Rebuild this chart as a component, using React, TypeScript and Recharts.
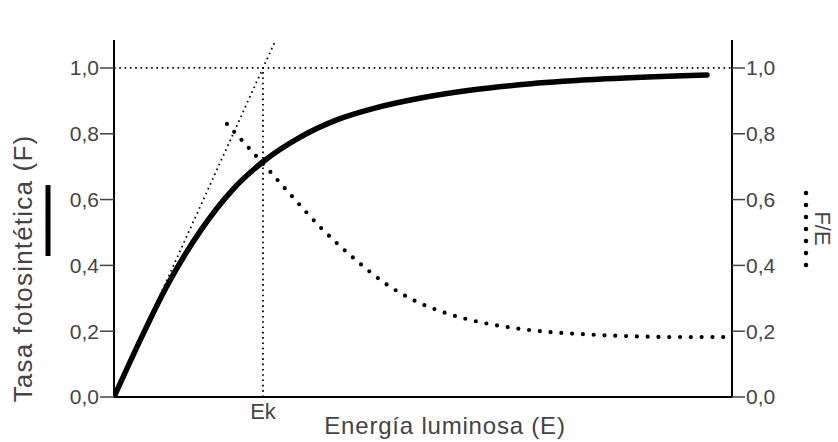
import { ComposedChart, Line, XAxis, YAxis, ReferenceLine } from 'recharts';

// Tasa fotosintética (F) frente a energía luminosa (E); E en unidades de Ek
const F_E = [0, 0.15, 0.35, 0.58, 0.8, 1.0, 1.25, 1.5, 1.75, 2.05, 2.4, 2.8, 3.3, 3.98];
const F_VAL = [0, 0.148, 0.333, 0.505, 0.632, 0.715, 0.79, 0.843, 0.878, 0.908, 0.933, 0.952, 0.967, 0.979];

// Cociente F/E (eje derecho)
const FE_E = [0.758, 0.973, 1.181, 1.396, 1.624, 1.805, 2.007, 2.228, 2.45, 2.678, 2.906, 3.141, 3.443, 3.8, 4.148];
const FE_VAL = [0.83, 0.723, 0.617, 0.511, 0.416, 0.35, 0.295, 0.255, 0.228, 0.21, 0.198, 0.191, 0.185, 0.182, 0.182];

// Recta tangente en el origen (pendiente 1/Ek)
const TAN_E = [0, 1.085];
const TAN_F = [0, 1.085];

const Y_TICKS = [0, 0.2, 0.4, 0.6, 0.8, 1.0];
const EK = 1;
const X_MAX = 4.148;
const Y_MAX = 1.085;

const curve = F_E.map((e, i) => ({ e, v: F_VAL[i] }));
const ratio = FE_E.map((e, i) => ({ e, v: FE_VAL[i] }));
const tangent = TAN_E.map((e, i) => ({ e, v: TAN_F[i] }));

const FONT = '"Liberation Sans", Arial, sans-serif';
const GREY = '#444';
const fmt = (v: number) => v.toFixed(1).replace('.', ',');

const LeftTitle = (props: any) => {
  const { x, y, height } = props.viewBox;
  const cy = y + height / 2 + 50;
  return (
    <g>
      <text x={x + 32} y={cy} transform={`rotate(-90 ${x + 32} ${cy})`} textAnchor="middle"
        fontSize={26} fill={GREY} fontFamily={FONT} letterSpacing={1.2}>
        Tasa fotosintética (F)
      </text>
      <line x1={x + 48} x2={x + 48} y1={y + 145} y2={y + 216} stroke="#000" strokeWidth={5} />
    </g>
  );
};

const RightTitle = (props: any) => {
  const { x, y, height } = props.viewBox;
  const cy = y + height / 2 + 10;
  return (
    <g>
      <text x={x + 83} y={cy} transform={`rotate(90 ${x + 83} ${cy})`} textAnchor="middle"
        fontSize={22} fill={GREY} fontFamily={FONT}>
        F/E
      </text>
      <line x1={x + 74} x2={x + 74} y1={y + 153} y2={y + 226.5} stroke="#000" strokeWidth={4.5}
        strokeLinecap="round" strokeDasharray="0 12" />
    </g>
  );
};

const XTitle = (props: any) => {
  const { x, y, width } = props.viewBox;
  return (
    <text x={x + width / 2 + 22} y={y + 37} textAnchor="middle" fontSize={24} fill={GREY}
      fontFamily={FONT} letterSpacing={0.8}>
      Energía luminosa (E)
    </text>
  );
};

export default function App() {
  return (
    <div>
      <style>{`body{margin:0;background:#fff}`}</style>
      <ComposedChart width={838} height={442} margin={{ top: 40, right: 0, bottom: 0, left: 0 }}>
        <XAxis dataKey="e" type="number" domain={[0, X_MAX]} ticks={[EK]} tickFormatter={() => 'Ek'}
          allowDataOverflow height={45} tickLine={false} tickSize={4}
          axisLine={{ stroke: '#000', strokeWidth: 2 }}
          tick={{ fontSize: 22, fill: GREY, fontFamily: FONT }}
          label={{ content: XTitle }} />
        <YAxis yAxisId="F" domain={[0, Y_MAX]} ticks={Y_TICKS} tickFormatter={fmt} allowDataOverflow
          width={114} tickSize={14} tickMargin={1}
          axisLine={{ stroke: '#000', strokeWidth: 2 }} tickLine={{ stroke: '#444', strokeWidth: 1.5 }}
          tick={{ fontSize: 21, fill: GREY, fontFamily: FONT }}
          label={{ content: LeftTitle }} />
        <YAxis yAxisId="FE" orientation="right" domain={[0, Y_MAX]} ticks={Y_TICKS} tickFormatter={fmt}
          allowDataOverflow width={106} tickSize={13} tickMargin={1}
          axisLine={{ stroke: '#000', strokeWidth: 2 }} tickLine={{ stroke: '#444', strokeWidth: 1.5 }}
          tick={{ fontSize: 21, fill: GREY, fontFamily: FONT }}
          label={{ content: RightTitle }} />
        <ReferenceLine yAxisId="F" y={1} stroke="#000" strokeWidth={1.8} strokeDasharray="1.6 3.7" />
        <ReferenceLine yAxisId="F" segment={[{ x: EK, y: 0 }, { x: EK, y: 1 }]} stroke="#000"
          strokeWidth={1.8} strokeDasharray="1.6 3.7" />
        <Line yAxisId="F" data={tangent} dataKey="v" type="linear" stroke="#000" strokeWidth={1.8}
          strokeDasharray="1.6 3.7" dot={false} activeDot={false} isAnimationActive={false} />
        <Line yAxisId="FE" data={ratio} dataKey="v" type="monotone" stroke="#000" strokeWidth={4.2}
          strokeLinecap="round" strokeDasharray="0 10.8" dot={false} activeDot={false}
          isAnimationActive={false} />
        <Line yAxisId="F" data={curve} dataKey="v" type="monotone" stroke="#000" strokeWidth={5.5}
          strokeLinecap="round" dot={false} activeDot={false} isAnimationActive={false} />
      </ComposedChart>
    </div>
  );
}
